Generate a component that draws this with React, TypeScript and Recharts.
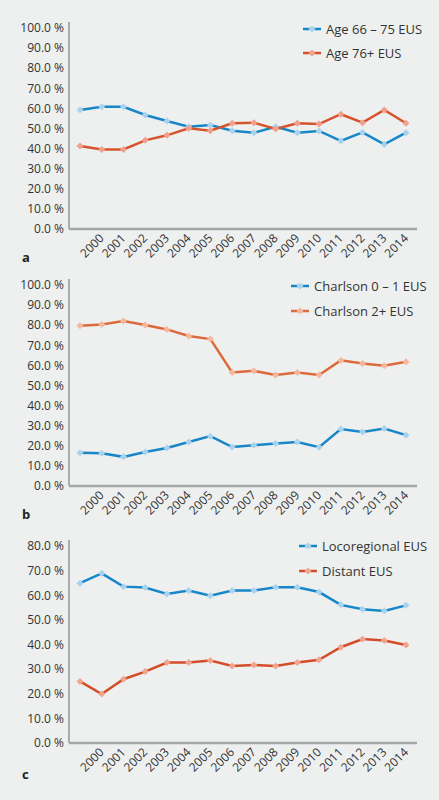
import React from "react";
import { LineChart, Line, XAxis, YAxis, Legend, Label } from "recharts";

const years = ["", "2000", "2001", "2002", "2003", "2004", "2005", "2006", "2007", "2008", "2009", "2010", "2011", "2012", "2013", "2014"];

const age66to75 = [59.2, 60.8, 60.8, 56.7, 53.7, 50.9, 51.7, 48.9, 47.9, 50.9, 47.9, 48.8, 43.8, 48.1, 42.1, 47.9];
const age76plus = [41.3, 39.6, 39.6, 44.1, 46.6, 50.1, 48.9, 52.6, 52.9, 49.8, 52.6, 52.2, 57.1, 52.9, 59.2, 52.6];

const charlson01 = [16.6, 16.3, 14.5, 16.9, 18.9, 21.9, 24.8, 19.4, 20.3, 21.1, 21.9, 19.3, 28.3, 26.9, 28.6, 25.3];
const charlson2 = [79.7, 80.4, 82.1, 80.1, 77.9, 74.6, 73.1, 56.5, 57.3, 55.2, 56.5, 55.2, 62.5, 61.0, 59.8, 61.8];

const locoregional = [64.9, 68.9, 63.5, 63.1, 60.5, 61.9, 59.8, 61.9, 61.9, 63.2, 63.2, 61.3, 56.1, 54.3, 53.6, 55.9];
const distant = [25.0, 19.9, 25.9, 29.0, 32.7, 32.7, 33.5, 31.3, 31.7, 31.3, 32.7, 33.8, 38.9, 42.2, 41.6, 39.8];

const yTicks100 = [0, 10, 20, 30, 40, 50, 60, 70, 80, 90, 100];
const yTicks80 = [0, 10, 20, 30, 40, 50, 60, 70, 80];

const namesA = ["Age 66 – 75 EUS", "Age 76+ EUS"];
const namesB = ["Charlson 0 – 1 EUS", "Charlson 2+ EUS"];
const namesC = ["Locoregional EUS", "Distant EUS"];

const FONT = "'Open Sans', 'Noto Sans', sans-serif";
const BLUE = "#1787c8";
const BLUE_MK = "#a9d2ef";
const RED_A = "#d6532d";
const RED_A_MK = "#f0a08c";
const ORANGE_B = "#dc6a3d";
const ORANGE_B_MK = "#f6b79c";
const RED_C = "#d34d29";
const RED_C_MK = "#f1a590";

const build = (a: number[], b: number[]) => years.map((y, i) => ({ year: y, s1: a[i], s2: b[i] }));
const dataA = build(age66to75, age76plus);
const dataB = build(charlson01, charlson2);
const dataC = build(locoregional, distant);

const makeDot = (fill: string) => (props: any) => {
  const { cx, cy, index } = props;
  if (cx == null || cy == null) return <g key={index} />;
  const r = 3.5;
  return (
    <path
      key={index}
      d={`M${cx},${cy - r}L${cx + r},${cy}L${cx},${cy + r}L${cx - r},${cy}Z`}
      fill={fill}
      stroke="none"
    />
  );
};

const XTick = (props: any) => {
  const { x, y, payload } = props;
  const tx = x + 3;
  const ty = y + 10;
  return (
    <text
      x={tx}
      y={ty}
      transform={`rotate(-45 ${tx} ${ty})`}
      textAnchor="end"
      fontSize={12}
      fontFamily={FONT}
      fill="#333"
    >
      {payload.value}
    </text>
  );
};

const yFmt = (v: number) => `${v.toFixed(1)} %`;

const makeLegend = (names: string[], lineColors: string[], markColors: string[], rowH: number) => () => (
  <div style={{ fontFamily: FONT, fontSize: 13, color: "#333" }}>
    {names.map((n, i) => (
      <div key={n} style={{ height: rowH, display: "flex", alignItems: "center", whiteSpace: "nowrap" }}>
        <svg width={18} height={10} style={{ marginRight: 5 }}>
          <line x1={0} y1={5} x2={18} y2={5} stroke={lineColors[i]} strokeWidth={2.5} />
          <path d="M9,1.5L12.5,5L9,8.5L5.5,5Z" fill={markColors[i]} />
        </svg>
        <span>{n}</span>
      </div>
    ))}
  </div>
);

type PanelProps = {
  data: any[];
  height: number;
  top: number;
  axisH: number;
  yMax: number;
  ticks: number[];
  letter: string;
  letterDy: number;
  names: string[];
  colors: string[];
  marks: string[];
  legendTop: number;
  legendLeft: number;
  rowH: number;
};

const Panel = (p: PanelProps) => (
  <LineChart
    width={439}
    height={p.height}
    data={p.data}
    margin={{ top: p.top, right: 22, bottom: 0, left: 0 }}
  >
    <XAxis
      dataKey="year"
      height={p.axisH}
      interval={0}
      tickLine={false}
      tickSize={0}
      tickMargin={0}
      padding={{ left: 11, right: 11 }}
      axisLine={{ stroke: "#a4a7a9", strokeWidth: 2.5 }}
      tick={<XTick />}
    >
      <Label
        content={(lp: any) => {
          const vb = lp.viewBox || { x: 69, y: 0 };
          return (
            <text x={vb.x - 47} y={vb.y + p.letterDy} fontFamily={FONT} fontWeight="bold" fontSize={13} fill="#222">
              {p.letter}
            </text>
          );
        }}
      />
    </XAxis>
    <YAxis
      width={69}
      domain={[0, p.yMax]}
      ticks={p.ticks}
      interval={0}
      tickFormatter={yFmt}
      tickLine={false}
      tickSize={0}
      tickMargin={5}
      padding={{ top: 6, bottom: 0 }}
      axisLine={{ stroke: "#a9acae", strokeWidth: 2 }}
      tick={{ fill: "#333", fontSize: 12, fontFamily: FONT }}
    />
    <Legend
      layout="vertical"
      align="center"
      verticalAlign="middle"
      wrapperStyle={{ top: p.legendTop, left: p.legendLeft, width: "auto" }}
      content={makeLegend(p.names, p.colors, p.marks, p.rowH)}
    />
    <Line
      type="linear"
      dataKey="s1"
      name={p.names[0]}
      stroke={p.colors[0]}
      strokeWidth={2.5}
      dot={makeDot(p.marks[0])}
      activeDot={false}
      isAnimationActive={false}
    />
    <Line
      type="linear"
      dataKey="s2"
      name={p.names[1]}
      stroke={p.colors[1]}
      strokeWidth={2.5}
      dot={makeDot(p.marks[1])}
      activeDot={false}
      isAnimationActive={false}
    />
  </LineChart>
);

export default function App() {
  return (
    <div style={{ position: "absolute", left: 0, top: 0, width: 439, height: 800, background: "#eef0f0", overflow: "hidden" }}>
      <div style={{ position: "absolute", left: 0, top: 0 }}>
        <Panel
          data={dataA}
          height={265}
          top={22}
          axisH={36}
          yMax={100}
          ticks={yTicks100}
          letter="a"
          letterDy={33}
          names={namesA}
          colors={[BLUE, RED_A]}
          marks={[BLUE_MK, RED_A_MK]}
          legendTop={17}
          legendLeft={303}
          rowH={24}
        />
      </div>
      <div style={{ position: "absolute", left: 0, top: 265 }}>
        <Panel
          data={dataB}
          height={265}
          top={14}
          axisH={44}
          yMax={100}
          ticks={yTicks100}
          letter="b"
          letterDy={33}
          names={namesB}
          colors={[BLUE, ORANGE_B]}
          marks={[BLUE_MK, ORANGE_B_MK]}
          legendTop={8}
          legendLeft={291}
          rowH={25}
        />
      </div>
      <div style={{ position: "absolute", left: 0, top: 530 }}>
        <Panel
          data={dataC}
          height={270}
          top={10}
          axisH={57}
          yMax={80}
          ticks={yTicks80}
          letter="c"
          letterDy={36}
          names={namesC}
          colors={[BLUE, RED_C]}
          marks={[BLUE_MK, RED_C_MK]}
          legendTop={3}
          legendLeft={299}
          rowH={25.5}
        />
      </div>
    </div>
  );
}
